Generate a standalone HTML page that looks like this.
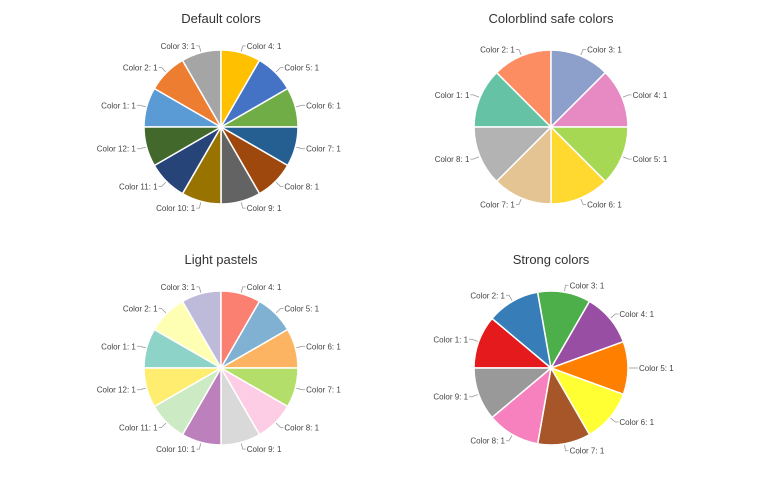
<!DOCTYPE html>
<html><head><meta charset="utf-8"><style>
html,body{margin:0;padding:0;background:#fff;width:780px;height:480px;overflow:hidden}
</style></head><body>
<svg id="s" width="780" height="480" xmlns="http://www.w3.org/2000/svg" font-family="Liberation Sans, sans-serif">
<text x="221" y="23" text-anchor="middle" font-size="13" fill="#333">Default colors</text>
<text x="551" y="23" text-anchor="middle" font-size="13" fill="#333">Colorblind safe colors</text>
<text x="221" y="264" text-anchor="middle" font-size="13" fill="#333">Light pastels</text>
<text x="551" y="264" text-anchor="middle" font-size="13" fill="#333">Strong colors</text>
</svg>
<script>
var svg=document.getElementById('s'),NS='http://www.w3.org/2000/svg';
function el(t,a,txt){var e=document.createElementNS(NS,t);for(var k in a)e.setAttribute(k,a[k]);if(txt)e.textContent=txt;svg.appendChild(e);return e;}
function pie(cx,cy,r,cols){
 var n=cols.length,step=360/n;
 for(var i=0;i<n;i++){
  var a0=(270+i*step)*Math.PI/180,a1=(270+(i+1)*step)*Math.PI/180;
  var x0=cx+r*Math.sin(a0),y0=cy-r*Math.cos(a0),x1=cx+r*Math.sin(a1),y1=cy-r*Math.cos(a1);
  el('path',{d:'M'+cx+','+cy+'L'+x0+','+y0+'A'+r+','+r+' 0 0 1 '+x1+','+y1+'Z',fill:cols[i],stroke:'#fff','stroke-width':1.5});
  var am=(a0+a1)/2,s=Math.sin(am),c=Math.cos(am);
  var lx0=cx+(r+1)*s,ly0=cy-(r+1)*c,lx1=cx+(r+7)*s,ly1=cy-(r+7)*c;
  var right=s>=0;
  var tx=lx1+(right?3:-3);
  el('path',{d:'M'+lx0+','+ly0+'L'+lx1+','+ly1+'L'+tx+','+ly1,stroke:'#999',fill:'none','stroke-width':0.8});
  el('text',{x:tx+(right?1:-1),y:ly1+3,'font-size':8,fill:'#444','text-anchor':right?'start':'end'},'Color '+(i+1)+': 1');
 }
}
pie(221,127,77,['#5b9bd5','#ed7d31','#a5a5a5','#ffc000','#4472c4','#70ad47','#255e91','#9e480e','#636363','#997300','#264478','#43682b']);
pie(551,127,77,['#66c2a5','#fc8d62','#8da0cb','#e78ac3','#a6d854','#ffd92f','#e5c494','#b3b3b3']);
pie(221,368,77,['#8dd3c7','#ffffb3','#bebada','#fb8072','#80b1d3','#fdb462','#b3de69','#fccde5','#d9d9d9','#bc80bd','#ccebc5','#ffed6f']);
pie(551,368,77,['#e41a1c','#377eb8','#4daf4a','#984ea3','#ff7f00','#ffff33','#a65628','#f781bf','#999999']);
</script>
</body></html>
